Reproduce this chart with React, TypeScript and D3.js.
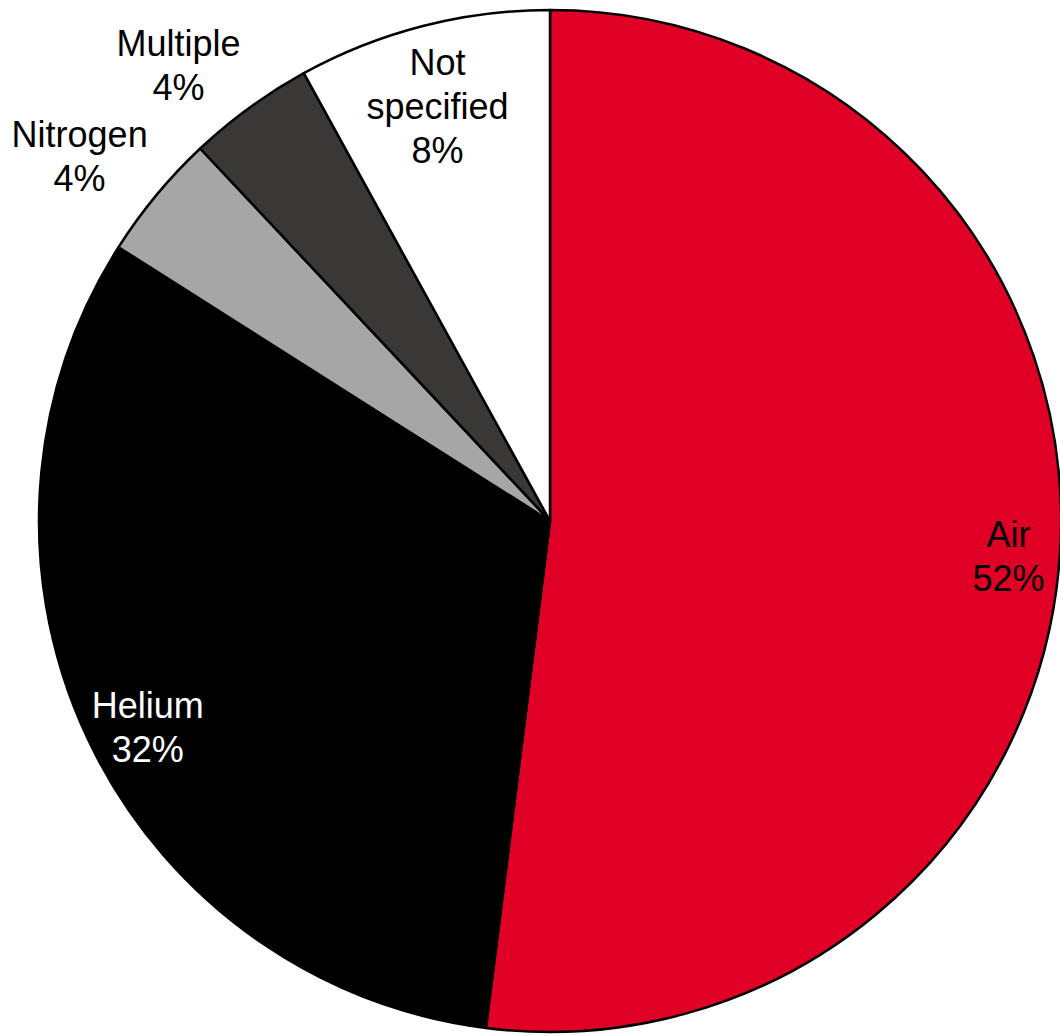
import React from "react";
import * as d3 from "d3";

const categories = ["Air", "Helium", "Nitrogen", "Multiple", "Not specified"];
const values = [52, 32, 4, 4, 8];
const labelLines = [["Air", "52%"], ["Helium", "32%"], ["Nitrogen", "4%"], ["Multiple", "4%"], ["Not", "specified", "8%"]];
const colors = ["#E00025", "#000000", "#A6A6A6", "#3A3836", "#FFFFFF"];
const textColors = ["#000000", "#FFFFFF", "#000000", "#000000", "#000000"];

const W = 1060, H = 1036;
const cx = 550, cy = 521, R = 511;
const labelR = [0.9, 0.885, 1.165, 1.15, 0.84];
const labelAngleOff = [0.8, -2, -1.8, -3.2, -0.8];
const fontSize = 36;
const lineH = 44;

export default function App() {
  const pie = d3.pie<number>().sort(null).value((d) => d);
  const arcs = pie(values);
  const arc = d3.arc<d3.PieArcDatum<number>>().innerRadius(0).outerRadius(R);
  return (
    <svg width={W} height={H} style={{ position: "absolute", left: 0, top: 0 }}>
      <g transform={`translate(${cx},${cy})`}>
        {arcs.map((a, i) => (
          <path key={categories[i]} d={arc(a) || ""} fill={colors[i]} stroke="#000" strokeWidth={2.5} strokeLinejoin="round" />
        ))}
        {arcs.map((a, i) => {
          const mid = (a.startAngle + a.endAngle) / 2 + (labelAngleOff[i] * Math.PI) / 180;
          const r = labelR[i] * R;
          const x = r * Math.sin(mid);
          const y = -r * Math.cos(mid);
          const lines = labelLines[i];
          const y0 = y - ((lines.length - 1) * lineH) / 2;
          return (
            <text key={"l" + i} textAnchor="middle" fontFamily="Liberation Sans, Arial, sans-serif" fontSize={fontSize} fill={textColors[i]}>
              {lines.map((t, j) => (
                <tspan key={j} x={x} y={y0 + j * lineH} dy="0.35em">{t}</tspan>
              ))}
            </text>
          );
        })}
      </g>
    </svg>
  );
}
